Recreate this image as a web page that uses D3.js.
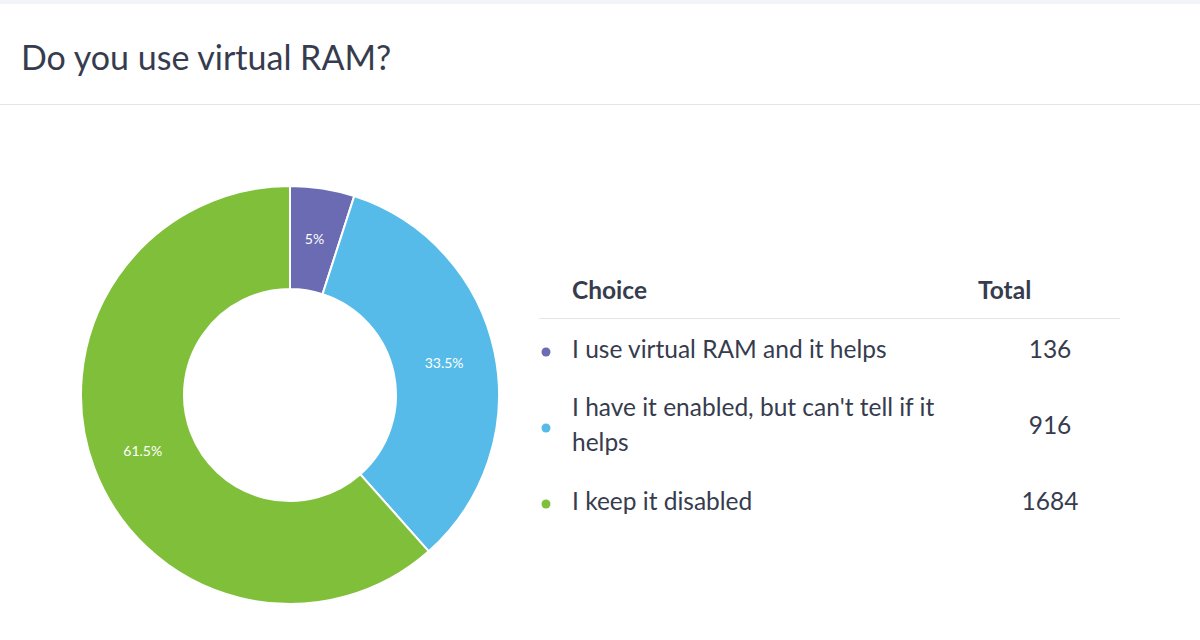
<!DOCTYPE html>
<html>
<head>
<meta charset="utf-8">
<script src="https://cdn.jsdelivr.net/npm/d3@7"></script>
<style>
  body { margin: 0; background: #fff; font-family: Lato, "Open Sans", sans-serif; }
  svg { display: block; }
</style>
</head>
<body>
<svg id="chart" width="1200" height="640"></svg>
<script>
// Survey data
const choices = [
    "I use virtual RAM and it helps",
    "I have it enabled, but can't tell if it helps",
    "I keep it disabled"
];
const totals = [136, 916, 1684];
const colors = ["#6a6bb3", "#56bbe8", "#80bf3a"];
const title = "Do you use virtual RAM?";

const svg = d3.select('#chart');
const textColor = '#363c4e';

// Top strip and header
svg.append('rect').attr('x', 0).attr('y', 0).attr('width', 1200).attr('height', 4).attr('fill', '#f3f4f8');
svg.append('text')
    .attr('x', 21).attr('y', 70)
    .attr('font-size', 34)
    .attr('fill', textColor)
    .text(title);
svg.append('line')
    .attr('x1', 0).attr('x2', 1200)
    .attr('y1', 104.5).attr('y2', 104.5)
    .attr('stroke', '#e4e4ea');

// Donut
const cx = 290, cy = 395;
const outerR = 209, innerR = 106;
const sum = d3.sum(totals);
const rows = choices.map((c, i) => ({ choice: c, total: totals[i], color: colors[i] }));

const pie = d3.pie().sort(null).value((d) => d.total);
const arc = d3.arc().innerRadius(innerR).outerRadius(outerR);
const labelArc = d3.arc().innerRadius((innerR + outerR) / 2).outerRadius((innerR + outerR) / 2);

const g = svg.append('g').attr('transform', `translate(${cx},${cy})`);
const arcs = pie(rows);

g.selectAll('path')
    .data(arcs)
    .join('path')
    .attr('d', arc)
    .attr('fill', (d) => d.data.color)
    .attr('stroke', '#fff')
    .attr('stroke-width', 2);

const fmtPct = (v) => (+(v * 100).toFixed(1)) + '%';

g.selectAll('text.pct')
    .data(arcs)
    .join('text')
    .attr('class', 'pct')
    .attr('transform', (d) => `translate(${labelArc.centroid(d)})`)
    .attr('text-anchor', 'middle')
    .attr('dy', '0.35em')
    .attr('font-size', 14)
    .attr('fill', '#fff')
    .text((d) => fmtPct(d.data.total / sum));

// Legend table
const fs = 24.5;
const legend = svg.append('g');
legend.append('text').attr('x', 572).attr('y', 299)
    .attr('font-size', fs).attr('font-weight', 'bold').attr('fill', textColor).text('Choice');
legend.append('text').attr('x', 978).attr('y', 299)
    .attr('font-size', fs).attr('font-weight', 'bold').attr('fill', textColor).text('Total');
legend.append('line')
    .attr('x1', 539).attr('x2', 1120)
    .attr('y1', 318.5).attr('y2', 318.5)
    .attr('stroke', '#e4e4ea');

// row centres and wrapped lines
const rowY = d3.scaleOrdinal().domain(choices).range([349, 425, 501]);
const wrapped = {
    [choices[1]]: ["I have it enabled, but can't tell if it", "helps"]
};

const row = legend.selectAll('g.row')
    .data(rows)
    .join('g')
    .attr('class', 'row')
    .attr('transform', (d) => `translate(0,${rowY(d.choice)})`);

row.append('circle')
    .attr('cx', 546).attr('cy', 3)
    .attr('r', 4.5)
    .attr('fill', (d) => d.color);

row.each(function (d) {
    const lines = wrapped[d.choice] || [d.choice];
    const t = d3.select(this).append('text')
        .attr('x', 572)
        .attr('font-size', fs)
        .attr('fill', textColor);
    lines.forEach((l, i) => {
        t.append('tspan')
            .attr('x', 572)
            .attr('y', (i - (lines.length - 1) / 2) * 35)
            .attr('dy', '0.35em')
            .text(l);
    });
});

row.append('text')
    .attr('x', 1050)
    .attr('dy', '0.35em')
    .attr('text-anchor', 'middle')
    .attr('font-size', fs)
    .attr('fill', textColor)
    .text((d) => d.total);
</script>
</body>
</html>
